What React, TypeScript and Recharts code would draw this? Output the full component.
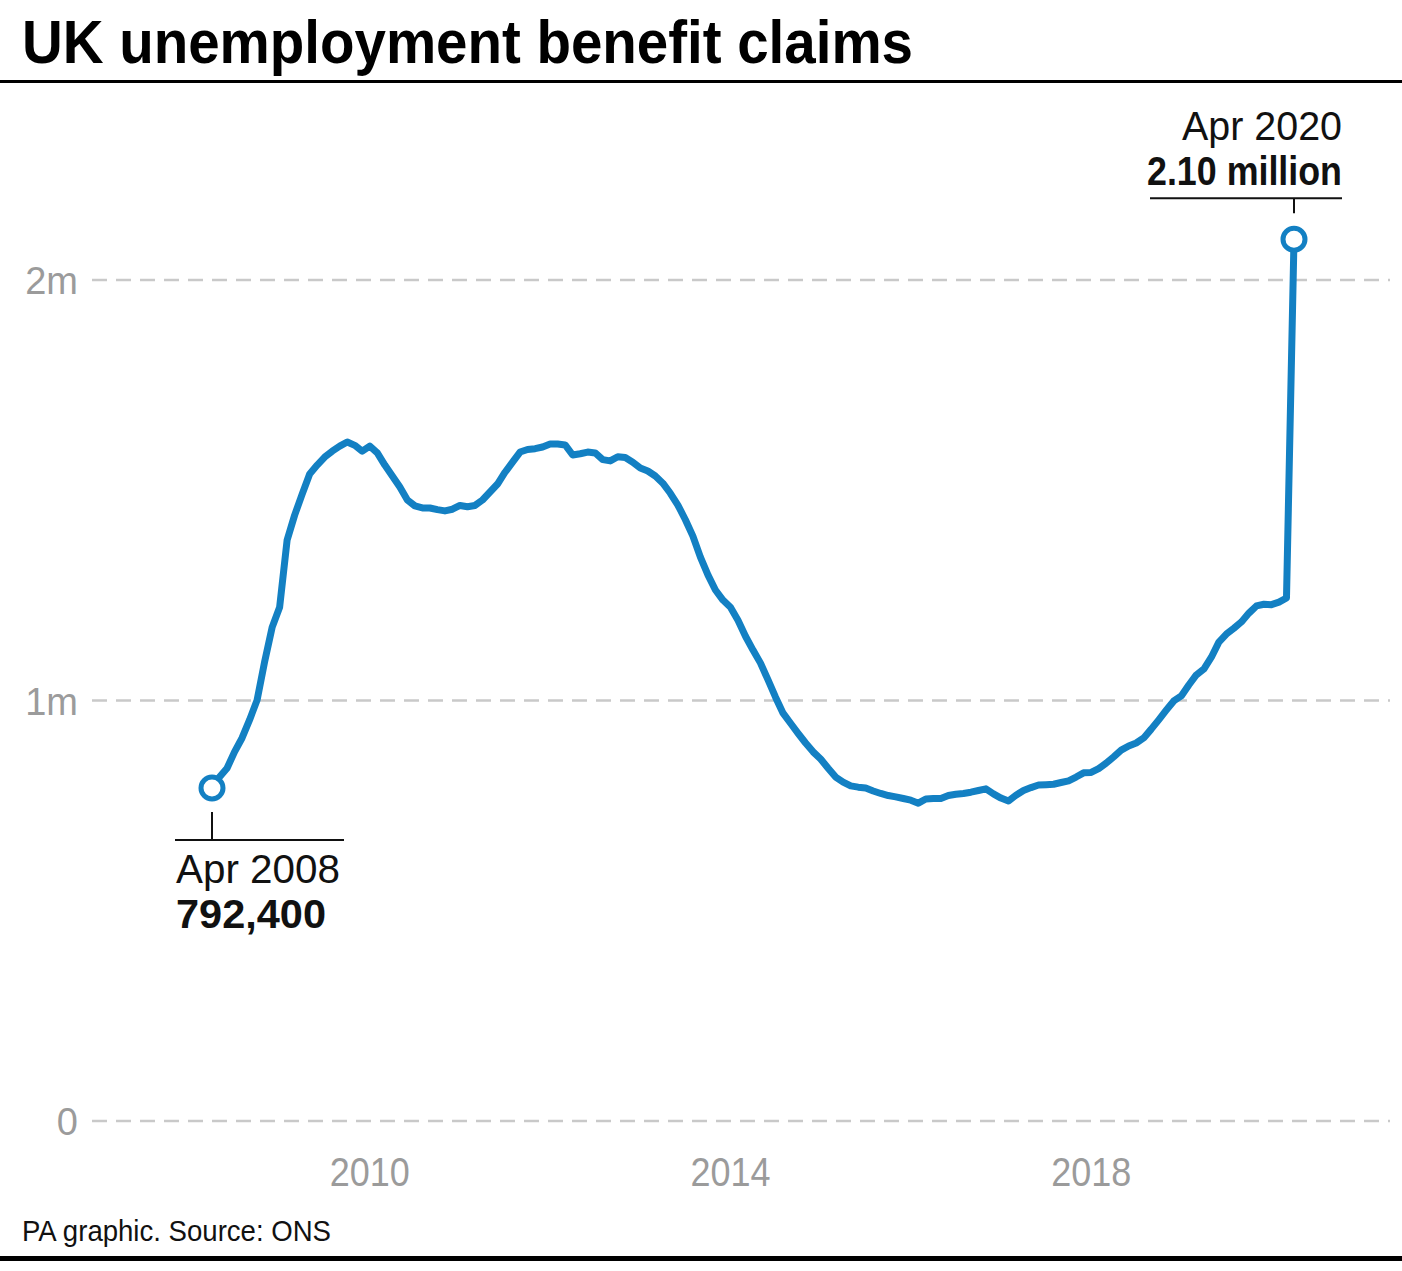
import React from 'react';
import { LineChart, Line, XAxis, YAxis, CartesianGrid } from 'recharts';

// claimant count, millions, monthly from Apr 2008 to Apr 2020
const claims = [
  0.792, 0.818, 0.839, 0.878, 0.911, 0.954, 1.001, 1.092, 1.174, 1.222,
  1.382, 1.441, 1.491, 1.539, 1.56, 1.579, 1.593, 1.605, 1.615, 1.607,
  1.593, 1.605, 1.589, 1.56, 1.534, 1.508, 1.477, 1.463, 1.458, 1.458,
  1.454, 1.451, 1.455, 1.464, 1.461, 1.464, 1.477, 1.496, 1.515, 1.543,
  1.567, 1.591, 1.597, 1.599, 1.603, 1.61, 1.61, 1.608, 1.584, 1.587,
  1.591, 1.589, 1.573, 1.57, 1.58, 1.578, 1.567, 1.553, 1.546, 1.534,
  1.517, 1.493, 1.465, 1.43, 1.391, 1.341, 1.299, 1.263, 1.239, 1.222,
  1.191, 1.153, 1.12, 1.089, 1.049, 1.008, 0.97, 0.946, 0.922, 0.899,
  0.878, 0.861, 0.839, 0.818, 0.806, 0.797, 0.794, 0.792, 0.785, 0.779,
  0.774, 0.771, 0.767, 0.763, 0.756, 0.766, 0.767, 0.767, 0.774, 0.777,
  0.779, 0.782, 0.786, 0.79, 0.778, 0.768, 0.761, 0.775, 0.786, 0.793,
  0.799, 0.8, 0.801, 0.805, 0.809, 0.818, 0.828, 0.829, 0.838, 0.851,
  0.866, 0.882, 0.892, 0.899, 0.911, 0.932, 0.954, 0.977, 0.999, 1.011,
  1.037, 1.061, 1.075, 1.103, 1.139, 1.158, 1.172, 1.187, 1.208, 1.225,
  1.229, 1.228, 1.234, 1.244, 2.097,
];

const monthNames = ['Jan', 'Feb', 'Mar', 'Apr', 'May', 'Jun', 'Jul', 'Aug', 'Sep', 'Oct', 'Nov', 'Dec'];
const startYear = 2008;
const startMonth = 3; // April

const months = claims.map((_, i) => {
  const m = startMonth + i;
  return `${monthNames[m % 12]} ${startYear + Math.floor(m / 12)}`;
});

const xTicks = ['Jan 2010', 'Jan 2014', 'Jan 2018'];
const yTicks = [0, 1, 2];
const yTickLabels = ['0', '1m', '2m'];

const calloutDates = ['Apr 2008', 'Apr 2020'];
const calloutValues = ['792,400', '2.10 million'];

const data = months.map((month, i) => ({ month, claims: claims[i] }));

const BLUE = '#1380c3';
const GREY = '#9b9b9b';
const FONT = '"Liberation Sans", Arial, sans-serif';

const YTick = ({ x, y, payload }: any) => (
  <text x={x} y={y + 14} textAnchor="end" fill={GREY} fontSize={38} fontFamily={FONT}>
    {yTickLabels[yTicks.indexOf(payload.value)]}
  </text>
);

const XTick = ({ x, y, payload }: any) => (
  <text
    x={x}
    y={y + 65}
    textAnchor="middle"
    fill={GREY}
    fontSize={40}
    fontFamily={FONT}
    textLength={80}
    lengthAdjust="spacingAndGlyphs"
  >
    {payload.value.split(' ')[1]}
  </text>
);

const renderDot = (props: any) => {
  const { cx, cy, index } = props;
  if (index === 0) {
    return (
      <g key="dot-start">
        <line x1={cx} y1={cy + 24} x2={cx} y2={cy + 52} stroke="#111" strokeWidth={2} />
        <line x1={cx - 37} y1={cy + 52} x2={cx + 132} y2={cy + 52} stroke="#111" strokeWidth={2} />
        <text x={cx - 36} y={cy + 95} fontSize={40} fontFamily={FONT} fill="#111" textLength={164} lengthAdjust="spacingAndGlyphs">
          {calloutDates[0]}
        </text>
        <text x={cx - 36} y={cy + 140} fontSize={40} fontWeight="bold" fontFamily={FONT} fill="#111" textLength={150} lengthAdjust="spacingAndGlyphs">
          {calloutValues[0]}
        </text>
        <circle cx={cx} cy={cy} r={11} fill="#fff" stroke={BLUE} strokeWidth={5} />
      </g>
    );
  }
  if (index === data.length - 1) {
    return (
      <g key="dot-end">
        <line x1={cx} y1={cy - 41} x2={cx} y2={cy - 26} stroke="#111" strokeWidth={2} />
        <line x1={cx - 144} y1={cy - 41} x2={cx + 48} y2={cy - 41} stroke="#111" strokeWidth={2} />
        <text x={cx + 48} y={cy - 99} textAnchor="end" fontSize={40} fontFamily={FONT} fill="#111" textLength={160} lengthAdjust="spacingAndGlyphs">
          {calloutDates[1]}
        </text>
        <text x={cx + 48} y={cy - 54} textAnchor="end" fontSize={40} fontWeight="bold" fontFamily={FONT} fill="#111" textLength={195} lengthAdjust="spacingAndGlyphs">
          {calloutValues[1]}
        </text>
        <circle cx={cx} cy={cy} r={11} fill="#fff" stroke={BLUE} strokeWidth={5} />
      </g>
    );
  }
  return <g key={`dot-${index}`} />;
};

export default function App() {
  return (
    <div style={{ position: 'absolute', left: 0, top: 0, width: 1402, height: 1271, background: '#fff' }}>
      <svg width={1402} height={1271} style={{ position: 'absolute', left: 0, top: 0 }}>
        <text x={22} y={63} fontSize={62} fontWeight="bold" fontFamily={FONT} fill="#000" textLength={891} lengthAdjust="spacingAndGlyphs">
          UK unemployment benefit claims
        </text>
        <rect x={0} y={80} width={1402} height={3} fill="#000" />
        <text x={22} y={1241} fontSize={30} fontFamily={FONT} fill="#111" textLength={309} lengthAdjust="spacingAndGlyphs">
          PA graphic. Source: ONS
        </text>
        <rect x={0} y={1256} width={1402} height={5} fill="#000" />
      </svg>
      <div style={{ position: 'absolute', left: 0, top: 0 }}>
        <LineChart width={1402} height={1271} data={data} margin={{ top: 196, right: 12, bottom: 90, left: 0 }}>
          <CartesianGrid
            vertical={false}
            horizontalValues={yTicks}
            stroke="#c9c9c9"
            strokeWidth={2.5}
            strokeDasharray="15 9"
          />
          <XAxis
            dataKey="month"
            ticks={xTicks}
            interval={0}
            height={60}
            axisLine={false}
            tickLine={false}
            tickSize={0}
            tickMargin={0}
            padding={{ left: 120, right: 96 }}
            tick={<XTick />}
          />
          <YAxis
            domain={[0, 2.2]}
            ticks={yTicks}
            width={92}
            axisLine={false}
            tickLine={false}
            tickSize={0}
            tickMargin={14}
            tick={<YTick />}
          />
          <Line
            type="linear"
            dataKey="claims"
            stroke={BLUE}
            strokeWidth={7}
            strokeLinejoin="round"
            dot={renderDot}
            activeDot={false}
            isAnimationActive={false}
          />
        </LineChart>
      </div>
    </div>
  );
}
